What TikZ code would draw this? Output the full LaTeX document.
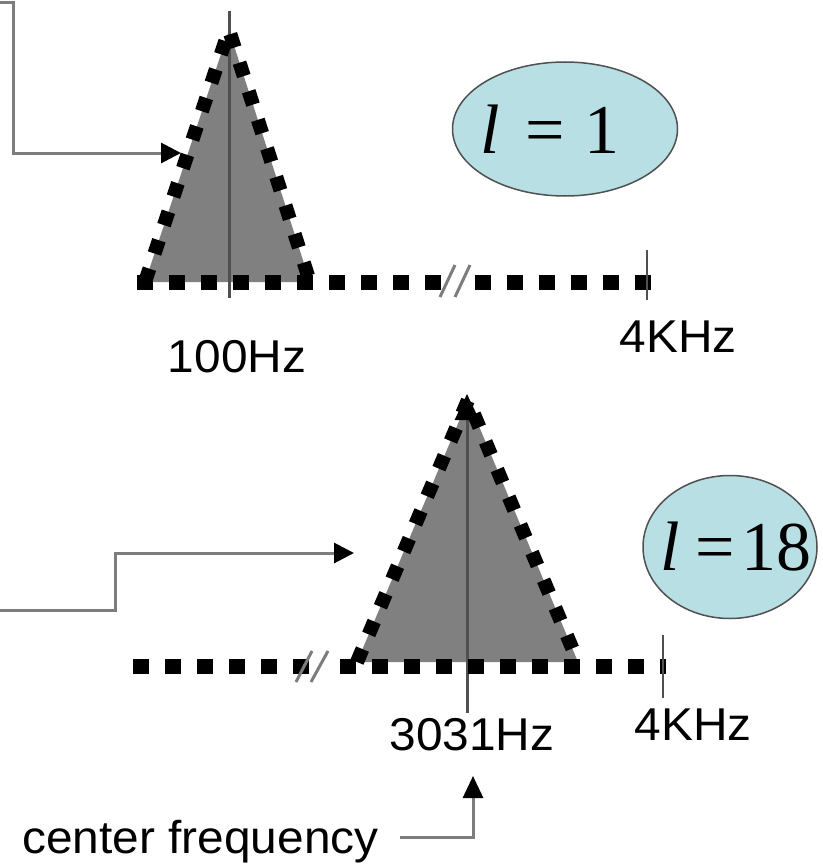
\documentclass[tikz,border=0pt]{standalone}
\usepackage{fontspec}
\setmainfont{Liberation Sans}
\newfontfamily\serifx{Liberation Serif}
\usetikzlibrary{arrows.meta,shapes.geometric}
\definecolor{trifill}{RGB}{128,128,128}
\definecolor{ellfill}{RGB}{184,223,228}
\definecolor{connc}{RGB}{125,125,125}
\definecolor{midc}{RGB}{80,80,80}
\begin{document}
\begin{tikzpicture}[x=1pt,y=-1pt,
  axisdots/.style={line width=15pt, dash pattern=on 16pt off 16pt, line cap=butt},
  sidedots/.style={line width=14pt, dash pattern=on 14pt off 16pt, line cap=butt, line join=round},
  conline/.style={draw=connc, line width=3pt},
  arr/.style={-{Triangle[length=20pt,width=20pt,color=black]}},
  midline/.style={draw=midc, line width=3pt},
  slash/.style={draw=connc, line width=3pt},
  tick/.style={draw=midc, line width=2.5pt},
  lab/.style={font=\fontsize{46}{50}\selectfont, inner sep=0pt, anchor=base},
  ellnode/.style={ellipse, draw=midc, line width=1.5pt, fill=ellfill, inner sep=0pt,
    font=\serifx\fontsize{70}{72}\selectfont}
]
\path[use as bounding box] (0,0) rectangle (822,867);

% ---------- top panel ----------
\coordinate (aL) at (145,282);
\coordinate (aT) at (229,30);
\coordinate (aR) at (310,282);
\fill[trifill] (aL) -- (aT) -- (aR) -- cycle;
\coordinate (m1top) at (229,11);
\coordinate (m1bot) at (229,298);
\draw[midline] (m1top) -- (m1bot);
\draw[sidedots] (aL) -- (aT) -- (aR);
\coordinate (ax1a) at (137,282);
\coordinate (ax1b) at (441,282);
\coordinate (ax1c) at (475,282);
\coordinate (ax1d) at (651,282);
\draw[axisdots] (ax1a) -- (ax1b);
\draw[axisdots] (ax1c) -- (ax1d);
\coordinate (s1a) at (440,297); \coordinate (s1b) at (455,265);
\coordinate (s2a) at (455,297); \coordinate (s2b) at (470,265);
\draw[slash] (s1a) -- (s1b);
\draw[slash] (s2a) -- (s2b);
\coordinate (t1a) at (647,250); \coordinate (t1b) at (647,300);
\draw[tick] (t1a) -- (t1b);
\node[lab] (f100) at (237,372) {\scalebox{1.04}[1]{100Hz}};
\node[lab] (k4a) at (678,352) {\scalebox{1.04}[1]{4KHz}};
\node[ellnode, minimum width=225pt, minimum height=134pt] (e1) at (565,129)
  {\makebox[0pt][c]{\kern-30pt{\itshape l}\kern26pt=\kern20pt1}};
\coordinate (c1s) at (0,3);
\coordinate (c1b) at (13,3);
\coordinate (c1c) at (13,153);
\coordinate (c1e) at (181,153);
\draw[conline, arr] (c1s) -- (c1b) -- (c1c) -- (c1e);

% ---------- bottom panel ----------
\coordinate (bL) at (357,662);
\coordinate (bT) at (468,400);
\coordinate (bR) at (578,662);
\fill[trifill] (bL) -- (bT) -- (bR) -- cycle;
\coordinate (m2bot) at (467,713);
\coordinate (m2top) at (467,394);
\draw[midline, -{Triangle[length=26pt,width=24pt,color=black]}] (m2bot) -- (m2top);
\draw[sidedots] (bL) -- (bT) -- (bR);
\coordinate (ax2a) at (133,666);
\coordinate (ax2b) at (309,666);
\coordinate (ax2c) at (340,666);
\coordinate (ax2d) at (666,666);
\draw[axisdots] (ax2a) -- (ax2b);
\draw[axisdots] (ax2c) -- (ax2d);
\coordinate (s3a) at (296,682); \coordinate (s3b) at (312,651);
\coordinate (s4a) at (311,682); \coordinate (s4b) at (328,651);
\draw[slash] (s3a) -- (s3b);
\draw[slash] (s4a) -- (s4b);
\coordinate (t2a) at (663,635); \coordinate (t2b) at (663,698);
\draw[tick] (t2a) -- (t2b);
\node[lab] (f3031) at (472,750) {\scalebox{1.04}[1]{3031Hz}};
\node[lab] (k4b) at (693,740) {\scalebox{1.04}[1]{4KHz}};
\node[ellnode, minimum width=174pt, minimum height=143pt] (e2) at (730,547)
  {\makebox[0pt][c]{\kern12pt{\itshape l}\kern16pt=\kern6pt18}};
\coordinate (c2s) at (0,610);
\coordinate (c2b) at (115,610);
\coordinate (c2c) at (115,553);
\coordinate (c2e) at (354,553);
\draw[conline, arr] (c2s) -- (c2b) -- (c2c) -- (c2e);

% ---------- center frequency ----------
\node[lab, anchor=base west] (cf) at (22,853) {\scalebox{1.04}[1]{center frequency}};
\coordinate (cfa) at (400,837);
\coordinate (cfb) at (473,837);
\coordinate (cfc) at (473,776);
\draw[conline, -{Triangle[length=22pt,width=20pt,color=black]}] (cfa) -- (cfb) -- (cfc);
\end{tikzpicture}
\end{document}
